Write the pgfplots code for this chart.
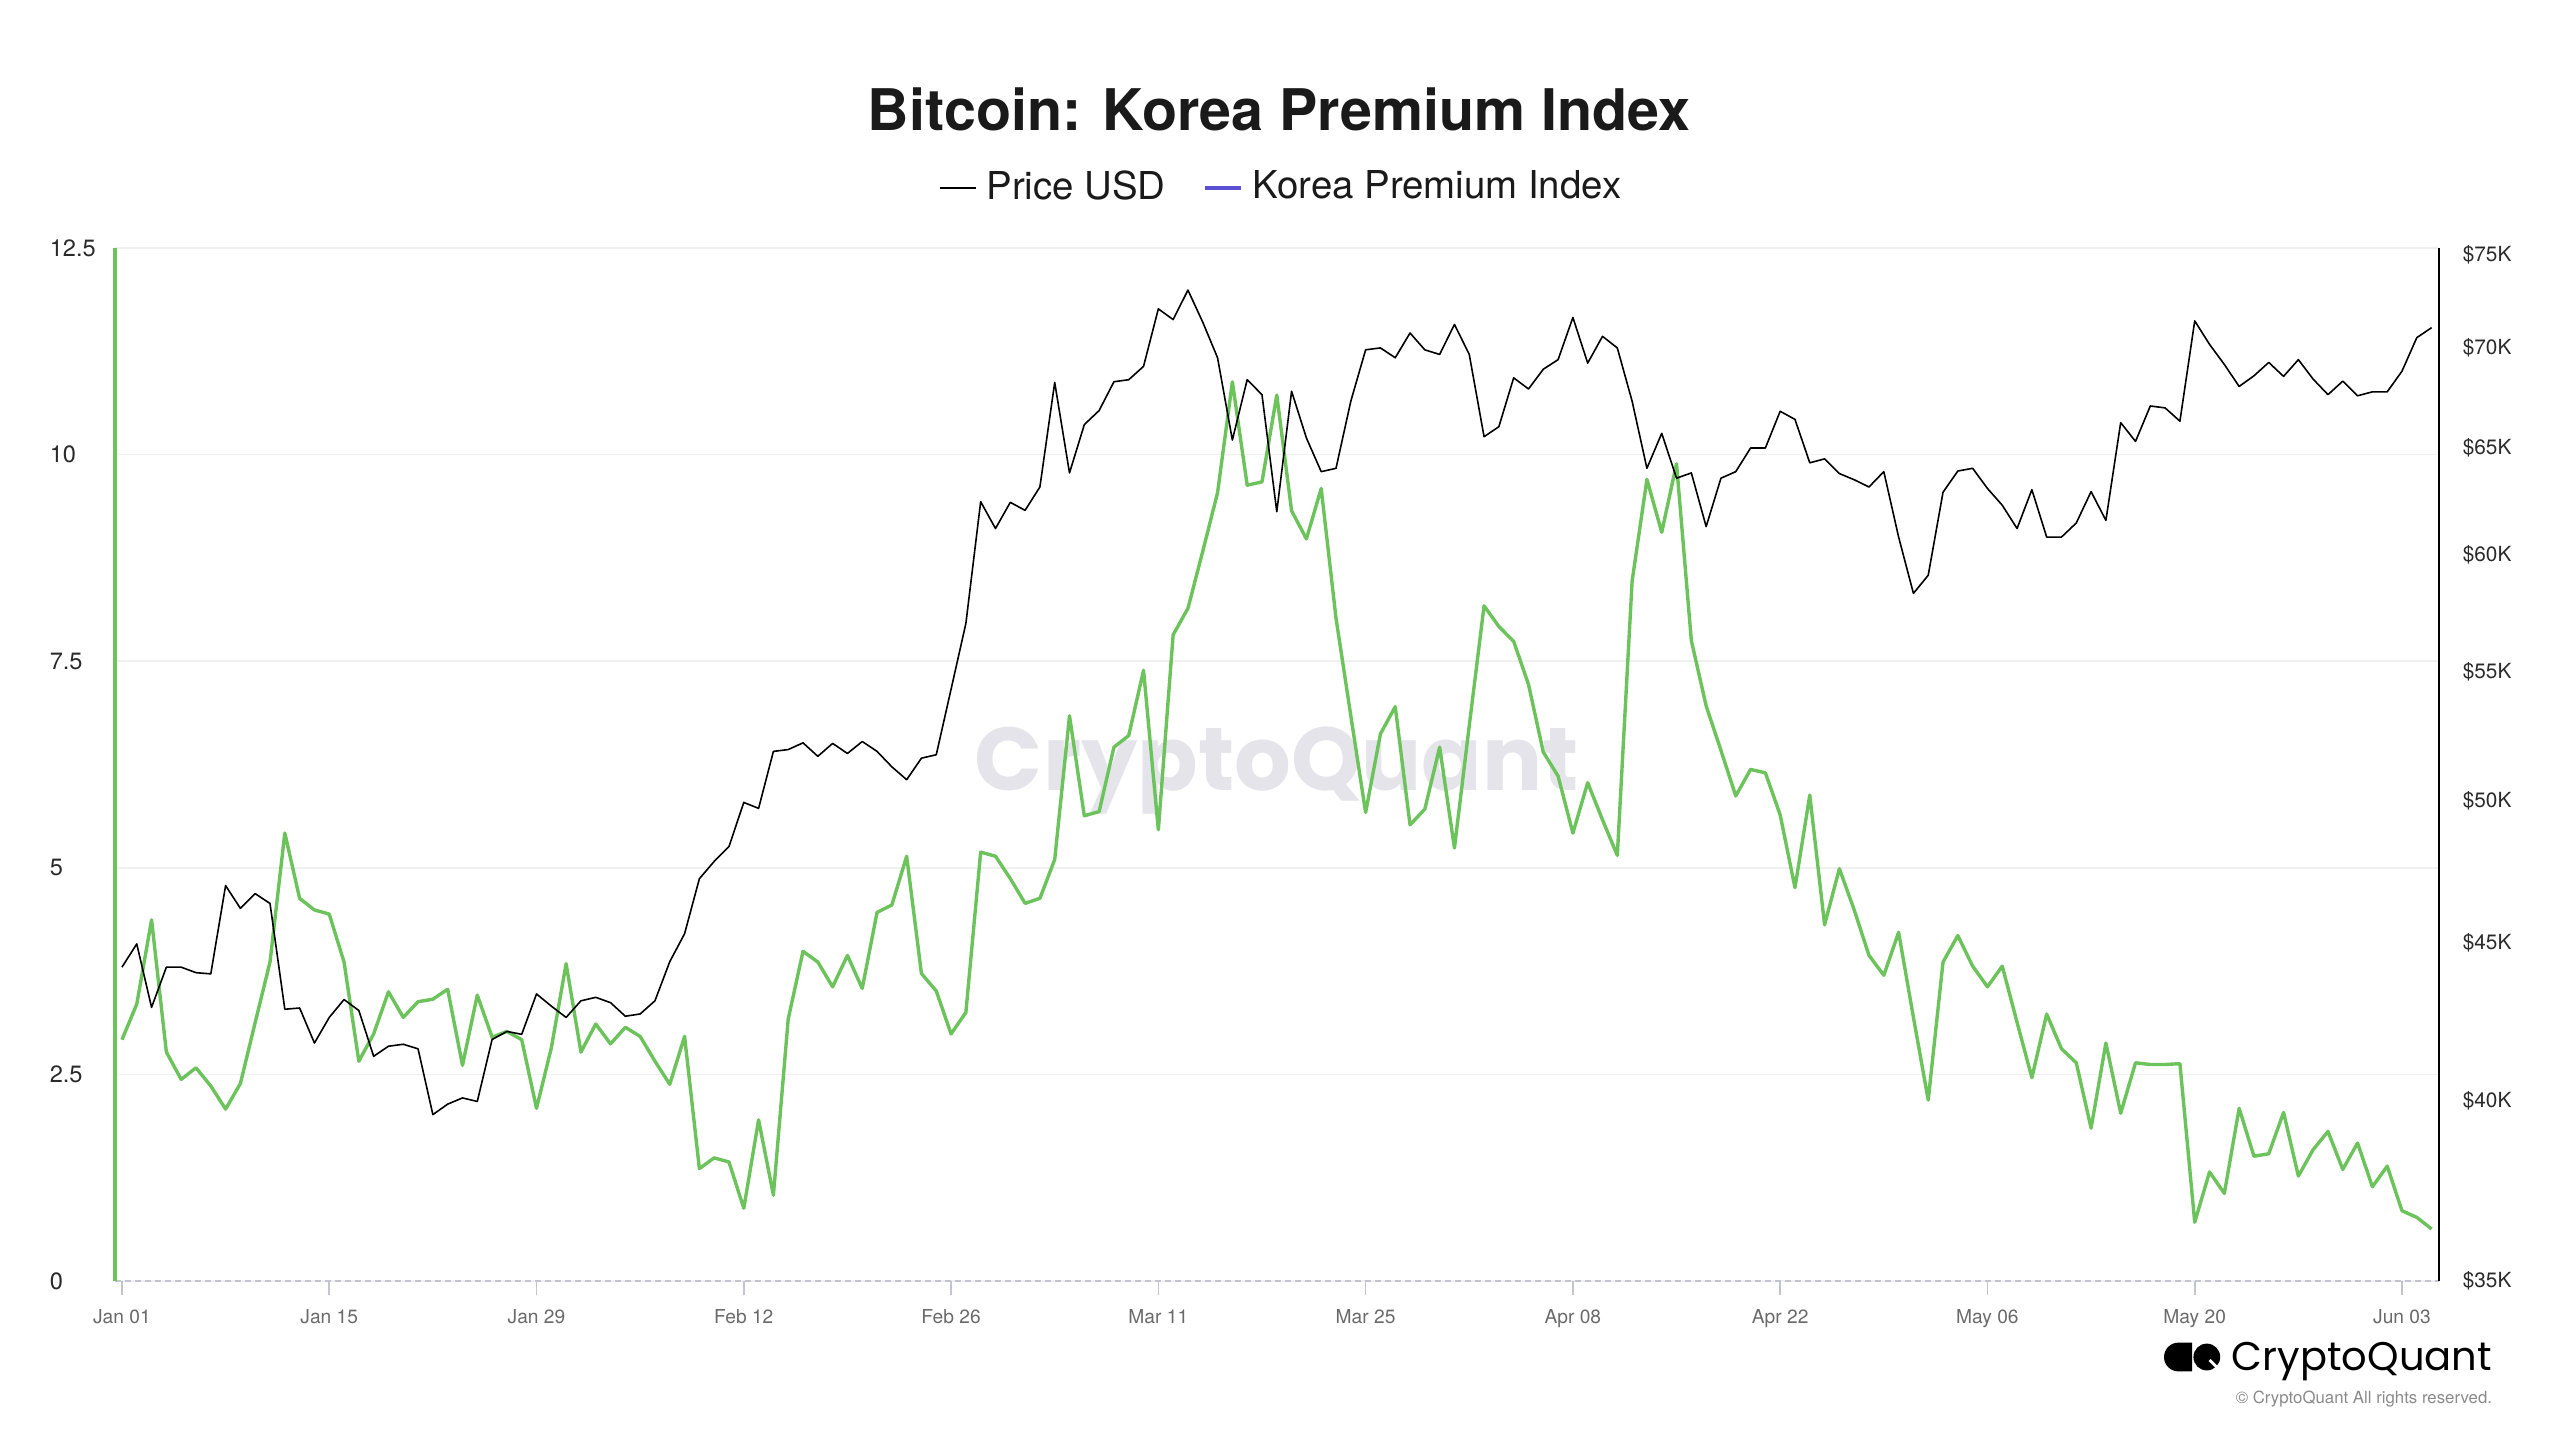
\documentclass[border=0pt]{standalone}
\usepackage{pgfplots}
\usepackage{pgfplotstable}
\pgfplotsset{compat=1.18}
\usepackage{fontspec}
\setmainfont{TeX Gyre Heros}
\newfontfamily\logofont{Poppins}
\definecolor{kgreen}{HTML}{6CC35C}
\definecolor{legpurple}{HTML}{5B4FD6}
\definecolor{gridcol}{HTML}{F0F0F2}
\definecolor{dashcol}{HTML}{C4C4D0}
\definecolor{labcol}{HTML}{2A2A2A}
\definecolor{datecol}{HTML}{6A6A6A}
\definecolor{wmcol}{HTML}{E4E4EA}
\definecolor{titlecol}{HTML}{1A1A1A}
\definecolor{copycol}{HTML}{8A8A8A}

\pgfplotstableread{
n price kpi
0 44180 2.92
1 44950 3.35
2 42880 4.37
3 44180 2.77
4 44180 2.44
5 44000 2.58
6 43960 2.36
7 46940 2.08
8 46150 2.39
9 46660 3.13
10 46320 3.86
11 42820 5.42
12 42860 4.63
13 41760 4.49
14 42560 4.44
15 43130 3.86
16 42780 2.66
17 41350 2.99
18 41660 3.50
19 41720 3.19
20 41580 3.38
21 39600 3.41
22 39910 3.53
23 40090 2.61
24 39990 3.46
25 41870 2.95
26 42120 3.02
27 42030 2.92
28 43310 2.09
29 42920 2.82
30 42560 3.84
31 43090 2.77
32 43200 3.11
33 43030 2.87
34 42600 3.07
35 42670 2.96
36 43090 2.66
37 44360 2.38
38 45290 2.96
39 47180 1.36
40 47790 1.49
41 48320 1.44
42 49930 0.88
43 49710 1.95
44 51860 1.04
45 51930 3.17
46 52190 3.99
47 51670 3.86
48 52170 3.56
49 51780 3.94
50 52240 3.54
51 51860 4.46
52 51270 4.55
53 50780 5.14
54 51600 3.72
55 51730 3.51
56 54310 2.99
57 57030 3.25
58 62430 5.19
59 61200 5.14
60 62400 4.87
61 62030 4.57
62 63120 4.63
63 68210 5.10
64 63780 6.84
65 66110 5.63
66 66800 5.68
67 68250 6.46
68 68350 6.60
69 69030 7.39
70 72050 5.46
71 71480 7.82
72 73060 8.14
73 71340 8.83
74 69480 9.54
75 65360 10.88
76 68350 9.63
77 67600 9.67
78 61970 10.72
79 67770 9.32
80 65460 8.98
81 63840 9.59
82 64000 8.02
83 67270 6.84
84 69890 5.67
85 69990 6.62
86 69480 6.95
87 70770 5.52
88 69890 5.71
89 69650 6.46
90 71220 5.24
91 69650 6.72
92 65520 8.17
93 66010 7.92
94 68450 7.74
95 67880 7.22
96 68890 6.40
97 69380 6.11
98 71590 5.42
99 69200 6.03
100 70590 5.58
101 69990 5.15
102 67270 8.47
103 64000 9.70
104 65680 9.06
105 63530 9.89
106 63780 7.75
107 61290 6.96
108 63530 6.42
109 63840 5.87
110 64970 6.19
111 64970 6.15
112 66770 5.64
113 66370 4.76
114 64260 5.88
115 64450 4.31
116 63750 4.99
117 63460 4.49
118 63120 3.94
119 63840 3.70
120 60810 4.22
121 58320 3.19
122 59110 2.19
123 62870 3.86
124 63870 4.18
125 64000 3.81
126 63050 3.56
127 62270 3.81
128 61200 3.13
129 62990 2.46
130 60810 3.23
131 60810 2.81
132 61450 2.64
133 62900 1.85
134 61570 2.88
135 66210 2.03
136 65290 2.64
137 67030 2.62
138 66940 2.62
139 66280 2.63
140 71410 0.71
141 70170 1.32
142 69130 1.06
143 68010 2.09
144 68550 1.51
145 69240 1.54
146 68520 2.04
147 69380 1.27
148 68380 1.59
149 67600 1.81
150 68280 1.35
151 67540 1.67
152 67740 1.14
153 67740 1.39
154 68790 0.85
155 70520 0.77
156 71050 0.63
}\datatable

\begin{document}
\begin{tikzpicture}
\path[use as bounding box] (0,0) rectangle (640pt,360pt);
% watermark
\node[anchor=base, text=wmcol, inner sep=0pt] at (319.25pt,162.5pt) {\resizebox{151pt}{!}{\logofont\bfseries CryptoQuant}};

\begin{axis}[
  at={(28.75pt,39.75pt)}, anchor=south west,
  scale only axis, width=581pt, height=258.25pt,
  xmin=-0.47, xmax=156.5, ymin=0, ymax=12.5,
  axis x line*=bottom, axis y line*=left,
  x axis line style={draw=dashcol, dash pattern=on 1.5pt off 1pt, line width=0.5pt, -},
  y axis line style={draw=kgreen, line width=0.8pt, -},
  ytick={0,2.5,5,7.5,10,12.5},
  yticklabels={0,2.5,5,7.5,10,12.5},
  ytick style={draw=none},
  ymajorgrids, grid style={color=gridcol, line width=0.4pt},
  yticklabel style={anchor=west, inner sep=0pt, xshift=-13pt, text=labcol, font=\fontsize{5.9}{6.5}\selectfont},
  xtick={0,14,28,42,56,70,84,98,112,126,140,154},
  xticklabels={Jan 01,Jan 15,Jan 29,Feb 12,Feb 26,Mar 11,Mar 25,Apr 08,Apr 22,May 06,May 20,Jun 03},
  tick align=outside, major tick length=3.5pt,
  xtick style={color=dashcol, line width=0.4pt},
  xticklabel style={anchor=north, inner sep=0pt, yshift=-3.3pt, text=datecol, font=\fontsize{4.8}{5.5}\selectfont},
  clip=false,
]
\addplot[kgreen, line width=0.85pt, line join=round] table[x=n,y=kpi]{\datatable};
\end{axis}

\begin{axis}[
  at={(28.75pt,39.75pt)}, anchor=south west,
  scale only axis, width=581pt, height=258.25pt,
  xmin=-0.47, xmax=156.5,
  ymode=log, ymin=35000, ymax=75400,
  axis x line=none, axis y line*=right,
  y axis line style={draw=black, line width=0.7pt, -},
  ytick={35000,40000,45000,50000,55000,60000,65000,70000,75000},
  yticklabels={\$35K,\$40K,\$45K,\$50K,\$55K,\$60K,\$65K,\$70K,\$75K},
  ytick style={draw=none}, yminorticks=false,
  yticklabel style={anchor=west, inner sep=0pt, xshift=5.75pt, text=labcol, font=\fontsize{5.2}{6}\selectfont},
  legend image code/.code={\draw[#1] (0pt,0pt) -- (9pt,0pt);},
  legend style={at={(0.5013,1.058)}, anchor=center, draw=none, fill=none,
    legend columns=2, inner sep=0pt, text=titlecol,
    font=\fontsize{9.6}{11}\selectfont,
    nodes={inner sep=0pt},
    /tikz/every odd column/.append style={column sep=2.5pt},
    /tikz/every even column/.append style={column sep=9.5pt}},
  clip=false,
]
\addlegendimage{black, line width=0.4pt}
\addlegendentry{Price USD}
\addlegendimage{legpurple, line width=0.8pt}
\addlegendentry{Korea Premium Index}
\addplot[black, line width=0.4pt, line join=round, forget plot] table[x=n,y=price]{\datatable};
\end{axis}

% title
\node[anchor=center, inner sep=0pt, text=titlecol, font=\bfseries\fontsize{14.35}{17}\selectfont] at (319.75pt,332.75pt) {Bitcoin: Korea Premium Index};

% logo
\fill[black] (548pt,24.35pt) -- (544.6pt,24.35pt) arc[start angle=90, end angle=270, radius=3.6pt] -- (548pt,17.15pt) -- cycle;
\fill[black] (551.7pt,20.75pt) circle[radius=3.35pt];
\draw[white, line width=0.7pt] (552.4pt,20.0pt) -- (555.4pt,17.0pt);
\node[anchor=base east, inner sep=0pt] at (623.2pt,17.35pt) {\resizebox{65pt}{!}{\logofont CryptoQuant}};
\node[anchor=base east, inner sep=0pt, text=copycol, font=\fontsize{4.2}{5}\selectfont] at (623.2pt,9.1pt) {\textcopyright{} CryptoQuant All rights reserved.};
\end{tikzpicture}
\end{document}
